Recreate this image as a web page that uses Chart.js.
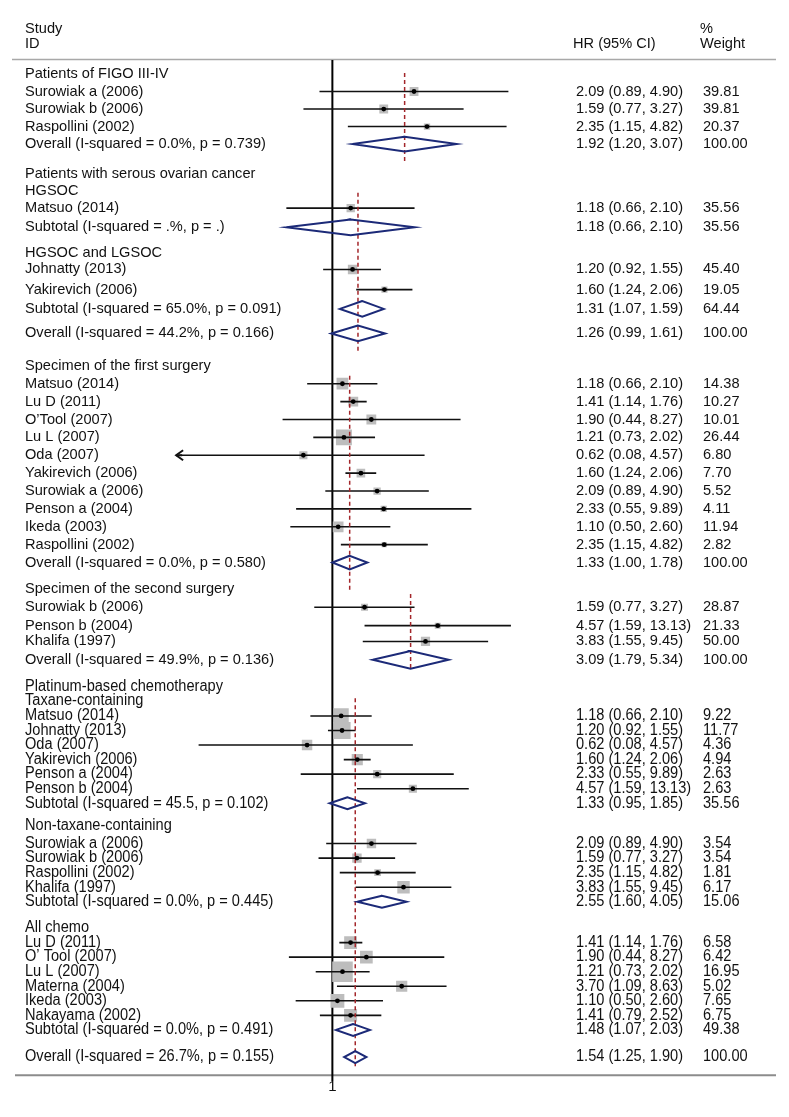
<!DOCTYPE html>
<html lang="en">
<head>
<meta charset="UTF-8">
<title>Forest plot</title>
<script src="https://cdn.jsdelivr.net/npm/chart.js"></script>
<style>
  body { margin: 0; background: #fff; }
  canvas { display: block; }
</style>
</head>
<body>
<canvas id="forest" width="789" height="1117"></canvas>
<script>
// ---- data (one entry per row, top to bottom; null = heading row) ----
const panelSizes = [5, 9, 12, 5, 24];

const rowLabels = [
  "Patients of FIGO III-IV", "Surowiak a (2006)", "Surowiak b (2006)", "Raspollini (2002)", "Overall (I-squared = 0.0%, p = 0.739)",
  "Patients with serous ovarian cancer", "HGSOC", "Matsuo (2014)", "Subtotal (I-squared = .%, p = .)", "HGSOC and LGSOC", "Johnatty (2013)", "Yakirevich (2006)", "Subtotal (I-squared = 65.0%, p = 0.091)", "Overall (I-squared = 44.2%, p = 0.166)",
  "Specimen of the first surgery", "Matsuo (2014)", "Lu D (2011)", "O\u2019Tool (2007)", "Lu L (2007)", "Oda (2007)", "Yakirevich (2006)", "Surowiak a (2006)", "Penson a (2004)", "Ikeda (2003)", "Raspollini (2002)", "Overall (I-squared = 0.0%, p = 0.580)",
  "Specimen of the second surgery", "Surowiak b (2006)", "Penson b (2004)", "Khalifa (1997)", "Overall (I-squared = 49.9%, p = 0.136)",
  "Platinum-based chemotherapy", "Taxane-containing", "Matsuo (2014)", "Johnatty (2013)", "Oda (2007)", "Yakirevich (2006)", "Penson a (2004)", "Penson b (2004)", "Subtotal (I-squared = 45.5, p = 0.102)",
  "Non-taxane-containing", "Surowiak a (2006)", "Surowiak b (2006)", "Raspollini (2002)", "Khalifa (1997)", "Subtotal (I-squared = 0.0%, p = 0.445)",
  "All chemo", "Lu D (2011)", "O\u2019 Tool (2007)", "Lu L (2007)", "Materna (2004)", "Ikeda (2003)", "Nakayama (2002)", "Subtotal (I-squared = 0.0%, p = 0.491)",
  "Overall (I-squared = 26.7%, p = 0.155)"
];

const hrEst = [
  null, 2.09, 1.59, 2.35, 1.92,
  null, null, 1.18, 1.18, null, 1.20, 1.60, 1.31, 1.26,
  null, 1.18, 1.41, 1.90, 1.21, 0.62, 1.60, 2.09, 2.33, 1.10, 2.35, 1.33,
  null, 1.59, 4.57, 3.83, 3.09,
  null, null, 1.18, 1.20, 0.62, 1.60, 2.33, 4.57, 1.33,
  null, 2.09, 1.59, 2.35, 3.83, 2.55,
  null, 1.41, 1.90, 1.21, 3.70, 1.10, 1.41, 1.48,
  1.54
];

const ciLow = [
  null, 0.89, 0.77, 1.15, 1.20,
  null, null, 0.66, 0.66, null, 0.92, 1.24, 1.07, 0.99,
  null, 0.66, 1.14, 0.44, 0.73, 0.08, 1.24, 0.89, 0.55, 0.50, 1.15, 1.00,
  null, 0.77, 1.59, 1.55, 1.79,
  null, null, 0.66, 0.92, 0.08, 1.24, 0.55, 1.59, 0.95,
  null, 0.89, 0.77, 1.15, 1.55, 1.60,
  null, 1.14, 0.44, 0.73, 1.09, 0.50, 0.79, 1.07,
  1.25
];

const ciHigh = [
  null, 4.90, 3.27, 4.82, 3.07,
  null, null, 2.10, 2.10, null, 1.55, 2.06, 1.59, 1.61,
  null, 2.10, 1.76, 8.27, 2.02, 4.57, 2.06, 4.90, 9.89, 2.60, 4.82, 1.78,
  null, 3.27, 13.13, 9.45, 5.34,
  null, null, 2.10, 1.55, 4.57, 2.06, 9.89, 13.13, 1.85,
  null, 4.90, 3.27, 4.82, 9.45, 4.05,
  null, 1.76, 8.27, 2.02, 8.63, 2.60, 2.52, 2.03,
  1.90
];

const weightPct = [
  null, 39.81, 39.81, 20.37, 100.00,
  null, null, 35.56, 35.56, null, 45.40, 19.05, 64.44, 100.00,
  null, 14.38, 10.27, 10.01, 26.44, 6.80, 7.70, 5.52, 4.11, 11.94, 2.82, 100.00,
  null, 28.87, 21.33, 50.00, 100.00,
  null, null, 9.22, 11.77, 4.36, 4.94, 2.63, 2.63, 35.56,
  null, 3.54, 3.54, 1.81, 6.17, 15.06,
  null, 6.58, 6.42, 16.95, 5.02, 7.65, 6.75, 49.38,
  100.00
];

const xTickLabels = ["1"];

// ---- layout ----
// vertical advance of each row, in row units
const rowAdvance = [
  0, 1, 1, 1, 1,
  1.7, 0.95, 1.0, 1.1, 1.45, 0.95, 1.15, 1.1, 1.4,
  1.85, 1.02, 1.02, 1.02, 1.02, 1.02, 1.02, 1.02, 1.02, 1.02, 1.02, 1.02,
  1.5, 1.05, 1.05, 0.9, 1.05,
  1.55, 0.8, 0.85, 0.83, 0.83, 0.83, 0.83, 0.83, 0.83,
  1.3, 1.0, 0.83, 0.83, 0.83, 0.83,
  1.5, 0.83, 0.83, 0.83, 0.83, 0.83, 0.83, 0.83,
  1.55
];
const W = 789, H = 1117;
const rowPx = 18, firstRowPx = 61;   // row unit height and first row centre
const nullPx = 330;                  // where HR = 1 sits
const pxPerLn = [115, 115, 63, 72, 55];   // each panel was a separate plot
const boxK = [1.4, 1.4, 3.1, 1.3, 5.0];
const diamondHalf = [0.42, 0.45, 0.39, 0.5, 0.34];
const refStart = [-0.05, 1.08, 0.57, 0.3, 0.64];
const refEnd = [1.11, 1.09, 1.63, 0.58, 0.7];
const arrowBelow = [0, 0, 0.1, 0, 0];
const textStretch = [1, 1, 1, 1, 1.07];
const hrColX = 576, wtColX = 703, labelX = 25;
const FONT = '14.6px "Liberation Sans", Arial, sans-serif';

const rowPanel = [];
panelSizes.forEach((n, p) => { for (let i = 0; i < n; i++) rowPanel.push(p); });
const rowPos = [];
let acc = 0;
rowAdvance.forEach(a => { acc += a; rowPos.push(acc); });
const isPooled = i => /^(Subtotal|Overall)/.test(rowLabels[i]);

const scales = {
  y: { type: 'linear', display: false, reverse: true, min: -firstRowPx / rowPx, max: (H - firstRowPx) / rowPx }
};
pxPerLn.forEach((s, p) => {
  scales['x' + p] = {
    type: 'logarithmic', axis: 'x', position: 'bottom', display: false, bounds: 'data',
    min: Math.exp(-nullPx / s), max: Math.exp((W - nullPx) / s)
  };
});

const datasets = [];
datasets.push({
  data: [{ x: 1, y: -0.8 }, { x: 1, y: 57.45 }], xAxisID: 'x4', showLine: true,
  borderColor: '#000', borderWidth: 2, pointRadius: 0, order: 6
});

panelSizes.forEach((n, p) => {
  const rows = rowPos.map((_, i) => i).filter(i => rowPanel[i] === p);
  const studies = rows.filter(i => hrEst[i] !== null && !isPooled(i));
  const pooled = rows.filter(i => hrEst[i] !== null && isPooled(i));
  const last = rows[rows.length - 1];
  const ax = 'x' + p;

  datasets.push({
    data: studies.map(i => ({ x: hrEst[i], y: rowPos[i] })), xAxisID: ax,
    pointStyle: 'rect', backgroundColor: '#bdbdbd', borderWidth: 0,
    pointRadius: studies.map(i => boxK[p] * Math.sqrt(weightPct[i]) / Math.SQRT2), order: 5
  });
  datasets.push({
    data: studies.flatMap(i => [{ x: ciLow[i], y: rowPos[i] }, { x: ciHigh[i], y: rowPos[i] }, { x: ciHigh[i], y: null }]),
    xAxisID: ax, showLine: true, borderColor: '#111', borderWidth: 1.6, pointRadius: 0, order: 4
  });
  datasets.push({
    data: [{ x: hrEst[last], y: rowPos[rows[0]] + refStart[p] }, { x: hrEst[last], y: rowPos[last] + refEnd[p] }],
    xAxisID: ax, showLine: true, borderColor: '#a3262a', borderWidth: 1.5, borderDash: [4, 3], pointRadius: 0, order: 3
  });
  datasets.push({
    data: pooled.flatMap(i => {
      const y = rowPos[i], h = diamondHalf[p];
      return [{ x: ciLow[i], y }, { x: hrEst[i], y: y - h }, { x: ciHigh[i], y }, { x: hrEst[i], y: y + h },
              { x: ciLow[i], y }, { x: hrEst[i], y: y - h }, { x: hrEst[i], y: null }];
    }),
    xAxisID: ax, showLine: true, borderColor: '#1c2a78', borderWidth: 2, borderJoinStyle: 'miter', pointRadius: 0, order: 2
  });
  datasets.push({
    data: studies.map(i => ({ x: hrEst[i], y: rowPos[i] })), xAxisID: ax,
    pointStyle: 'circle', backgroundColor: '#000', borderWidth: 0, pointRadius: 2.4, order: 1
  });
});

function stretchedText(ctx, txt, x, y, k) {
  ctx.save();
  ctx.translate(x, y);
  ctx.scale(1, k);
  ctx.fillText(txt, 0, 0);
  ctx.restore();
}

const textPlugin = {
  id: 'forestText',
  beforeDatasetsDraw(chart) {
    const ctx = chart.ctx, y = chart.scales.y;
    ctx.save();
    ctx.strokeStyle = '#a8a8a8';
    ctx.lineWidth = 1.5;
    ctx.beginPath();
    ctx.moveTo(12, y.getPixelForValue(-0.83));
    ctx.lineTo(776, y.getPixelForValue(-0.83));
    ctx.stroke();
    ctx.strokeStyle = '#8c8c8c';
    ctx.lineWidth = 2;
    ctx.beginPath();
    ctx.moveTo(15, y.getPixelForValue(57.11));
    ctx.lineTo(776, y.getPixelForValue(57.11));
    ctx.stroke();
    ctx.restore();
  },
  afterDatasetsDraw(chart) {
    const ctx = chart.ctx, y = chart.scales.y;
    ctx.save();
    ctx.font = FONT;
    ctx.fillStyle = '#111';
    ctx.textBaseline = 'middle';
    ctx.textAlign = 'left';
    const yStudy = y.getPixelForValue(-2.56), yId = y.getPixelForValue(-1.72);
    ctx.fillText('Study', labelX, yStudy);
    ctx.fillText('ID', labelX, yId);
    ctx.fillText('HR (95% CI)', hrColX - 3, yId);
    ctx.fillText('%', wtColX - 3, yStudy);
    ctx.fillText('Weight', wtColX - 3, yId);

    rowLabels.forEach((lab, i) => {
      const py = y.getPixelForValue(rowPos[i]);
      const p = rowPanel[i], k = textStretch[p];
      stretchedText(ctx, lab, labelX, py, k);
      if (hrEst[i] === null) return;
      stretchedText(ctx, hrEst[i].toFixed(2) + ' (' + ciLow[i].toFixed(2) + ', ' + ciHigh[i].toFixed(2) + ')', hrColX, py, k);
      stretchedText(ctx, weightPct[i].toFixed(2), wtColX, py, k);
      if (ciLow[i] < arrowBelow[p]) {
        const ax = chart.scales['x' + p].getPixelForValue(ciLow[i]) - 3;
        ctx.strokeStyle = '#111';
        ctx.lineWidth = 2;
        ctx.beginPath();
        ctx.moveTo(ax + 7, py - 5);
        ctx.lineTo(ax, py);
        ctx.lineTo(ax + 7, py + 5);
        ctx.stroke();
        ctx.beginPath();
        ctx.moveTo(ax, py);
        ctx.lineTo(ax + 6, py);
        ctx.stroke();
      }
    });

    ctx.textAlign = 'center';
    ctx.font = '15px "Liberation Sans", Arial, sans-serif';
    const x4 = chart.scales.x4;
    xTickLabels.forEach(t => ctx.fillText(t, x4.getPixelForValue(Number(t)), y.getPixelForValue(57.78)));
    ctx.restore();
  }
};

new Chart(document.getElementById('forest'), {
  type: 'scatter',
  data: { datasets: datasets },
  options: {
    responsive: false,
    animation: false,
    events: [],
    layout: { padding: 0 },
    plugins: { legend: { display: false }, tooltip: { enabled: false } },
    scales: scales
  },
  plugins: [textPlugin]
});
</script>
</body>
</html>
